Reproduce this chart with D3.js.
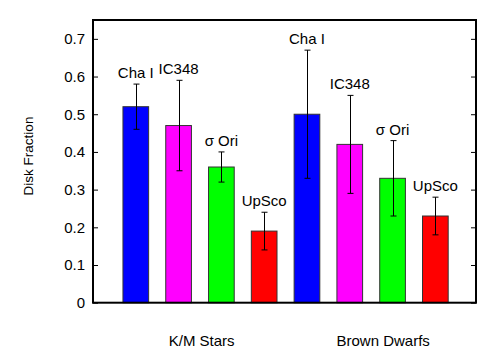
<!DOCTYPE html>
<html>
<head>
<meta charset="utf-8">
<script src="https://cdn.jsdelivr.net/npm/d3@7"></script>
<style>
  body { margin: 0; background: #fff; }
  text { font-family: "Liberation Sans", Arial, Helvetica, sans-serif; fill: #000; }
</style>
</head>
<body>
<div id="chart"></div>
<script>
// data
const regiones = ["Cha I", "IC348", "\u03c3 Ori", "UpSco", "Cha I", "IC348", "\u03c3 Ori", "UpSco"];
const fraccion = [0.52, 0.47, 0.36, 0.19, 0.50, 0.42, 0.33, 0.23];
const errBajo  = [0.46, 0.35, 0.32, 0.14, 0.33, 0.29, 0.23, 0.18];
const errAlto  = [0.58, 0.59, 0.40, 0.24, 0.67, 0.55, 0.43, 0.28];
const grupos = ["K/M Stars", "Brown Dwarfs"];
const posGrupos = [2.54, 6.78];
const ticksY = [0, 0.1, 0.2, 0.3, 0.4, 0.5, 0.6, 0.7];

const colores = ["#0000ff", "#ff00ff", "#00ff00", "#ff0000"];

const WIDTH = 502;
const HEIGHT = 352;
const margen = { left: 93, right: 26, top: 20, bottom: 49.3 };

const SVG = d3.select("#chart").append("svg")
  .attr("width", WIDTH).attr("height", HEIGHT);

const x = d3.scaleLinear()
  .domain([0, 8.95])
  .range([margen.left, WIDTH - margen.right]);

const y = d3.scaleLinear()
  .domain([0, 0.75])
  .range([HEIGHT - margen.bottom, margen.top]);

const anchoBarra = x(0.6) - x(0);
const datos = fraccion.map((v, i) => ({
  nombre: regiones[i], valor: v, bajo: errBajo[i], alto: errAlto[i], pos: i + 1, color: colores[i % 4]
}));

// barras
SVG.append("g").selectAll("rect")
  .data(datos)
  .enter()
  .append("rect")
  .attr("x", d => x(d.pos) - anchoBarra / 2)
  .attr("y", d => y(d.valor))
  .attr("width", anchoBarra)
  .attr("height", d => y(0) - y(d.valor))
  .attr("fill", d => d.color)
  .attr("stroke", "#333")
  .attr("stroke-width", 1);

// barras de error
const err = SVG.append("g").attr("stroke", "#000").attr("stroke-width", 1);
datos.forEach(d => {
  const cx = Math.round(x(d.pos)) + 0.5;
  err.append("line").attr("x1", cx).attr("x2", cx).attr("y1", y(d.bajo)).attr("y2", y(d.alto));
  err.append("line").attr("x1", cx - 3).attr("x2", cx + 3).attr("y1", y(d.bajo)).attr("y2", y(d.bajo));
  err.append("line").attr("x1", cx - 3).attr("x2", cx + 3).attr("y1", y(d.alto)).attr("y2", y(d.alto));
});

// etiquetas de regiones
SVG.append("g").selectAll("text")
  .data(datos)
  .enter()
  .append("text")
  .attr("x", d => x(d.pos))
  .attr("y", d => y(d.alto) - 6)
  .attr("text-anchor", "middle")
  .attr("font-size", "15px")
  .text(d => d.nombre);

// ejes con ticks hacia adentro
const ejeIzq = SVG.append("g")
  .attr("transform", `translate(${margen.left},0)`)
  .call(d3.axisRight(y).tickValues(ticksY).tickSize(5).tickFormat(""));
ejeIzq.select(".domain").remove();

const ejeDer = SVG.append("g")
  .attr("transform", `translate(${WIDTH - margen.right},0)`)
  .call(d3.axisLeft(y).tickValues(ticksY).tickSize(5).tickFormat(""));
ejeDer.select(".domain").remove();

SVG.append("g").selectAll("text")
  .data(ticksY)
  .enter()
  .append("text")
  .attr("x", margen.left - 8)
  .attr("y", d => y(d))
  .attr("dy", "0.36em")
  .attr("text-anchor", "end")
  .attr("font-size", "15px")
  .text(d => d === 0 ? "0" : d3.format(".1f")(d));

// marco
SVG.append("rect")
  .attr("x", margen.left)
  .attr("y", margen.top)
  .attr("width", WIDTH - margen.right - margen.left)
  .attr("height", y(0) - margen.top)
  .attr("fill", "none")
  .attr("stroke", "#000")
  .attr("stroke-width", 2);

// grupos
SVG.append("g").selectAll("text")
  .data(grupos)
  .enter()
  .append("text")
  .attr("x", (d, i) => x(posGrupos[i]))
  .attr("y", 345.5)
  .attr("text-anchor", "middle")
  .attr("font-size", "15px")
  .text(d => d);

// titulo eje y
SVG.append("text")
  .attr("transform", "translate(33,156) rotate(-90)")
  .attr("text-anchor", "middle")
  .attr("font-size", "13.5px")
  .text("Disk Fraction");
</script>
</body>
</html>
